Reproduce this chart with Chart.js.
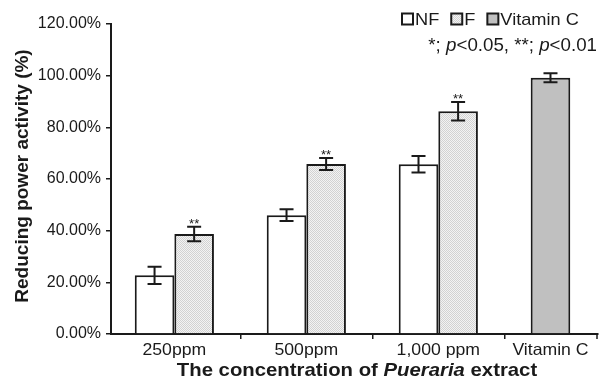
<!DOCTYPE html>
<html>
<head>
<meta charset="utf-8">
<script src="https://cdn.jsdelivr.net/npm/chart.js@4"></script>
<style>
html, body { margin: 0; padding: 0; background: #fff; overflow: hidden; }
#box { width: 604px; height: 380px; }
</style>
</head>
<body>
<div id="box"><canvas id="grafico"></canvas></div>
<script>
var categorie = ['250ppm', '500ppm', '1,000 ppm', 'Vitamin C'];
var valoriNF = [22.7, 46.0, 65.7, null];
var erroriNF = [3.3, 2.3, 3.2, null];
var valoriF = [38.7, 65.8, 86.2, null];
var erroriF = [2.8, 2.3, 3.6, null];
var valoriVitC = [null, null, null, 99.2];
var erroriVitC = [null, null, null, 1.7];
var stelleF = ['**', '**', '**', ''];
var tickY = [0, 20, 40, 60, 80, 100, 120];

var font = "'Liberation Sans', Arial, sans-serif";
var nero = '#1a1a1a';
// il testo dell'originale e' un po' allargato in orizzontale
var stira = 1.07;

// puntinato grigio chiaro per la serie F
function retino() {
    var c = document.createElement('canvas');
    c.width = 2;
    c.height = 2;
    var g = c.getContext('2d');
    g.fillStyle = '#f3f3f3';
    g.fillRect(0, 0, 2, 2);
    g.fillStyle = '#d2d2d2';
    g.fillRect(0, 0, 1, 1);
    g.fillRect(1, 1, 1, 1);
    return g.createPattern(c, 'repeat');
}

// scrive pezzi di testo con stili diversi, allargati in x
function scrivi(ctx, pezzi, x, y, allinea) {
    var w = 0;
    pezzi.forEach(function (p) {
        ctx.font = p[0] + font;
        w += ctx.measureText(p[1]).width;
    });
    var px = allinea === 'center' ? -w / 2 : (allinea === 'right' ? -w : 0);
    ctx.save();
    ctx.translate(x, y);
    ctx.scale(stira, 1);
    ctx.textAlign = 'left';
    ctx.textBaseline = 'middle';
    pezzi.forEach(function (p) {
        ctx.font = p[0] + font;
        ctx.fillText(p[1], px, 0);
        px += ctx.measureText(p[1]).width;
    });
    ctx.restore();
    return w * stira;
}

var errori = [erroriNF, erroriF, erroriVitC];
var stelle = [null, stelleF, null];

var pluginErrori = {
    id: 'barreErrore',
    afterDatasetsDraw: function (chart) {
        var ctx = chart.ctx;
        var y = chart.scales.y;
        ctx.save();
        ctx.strokeStyle = nero;
        ctx.lineWidth = 2;
        for (var i = 0; i < chart.data.datasets.length; i++) {
            var meta = chart.getDatasetMeta(i);
            var dati = chart.data.datasets[i].data;
            for (var j = 0; j < dati.length; j++) {
                if (dati[j] === null) continue;
                var x = meta.data[j].x;
                var e = errori[i][j];
                var alto = y.getPixelForValue(dati[j] + e);
                var basso = y.getPixelForValue(dati[j] - e);
                ctx.beginPath();
                ctx.moveTo(x, alto);
                ctx.lineTo(x, basso);
                ctx.moveTo(x - 7, alto);
                ctx.lineTo(x + 7, alto);
                ctx.moveTo(x - 7, basso);
                ctx.lineTo(x + 7, basso);
                ctx.stroke();
                if (stelle[i] && stelle[i][j]) {
                    ctx.fillStyle = nero;
                    ctx.font = '13px ' + font;
                    ctx.textAlign = 'center';
                    ctx.textBaseline = 'alphabetic';
                    ctx.fillText(stelle[i][j], x, alto + 1);
                }
            }
        }
        ctx.restore();
    }
};

var pluginTesti = {
    id: 'testi',
    afterDraw: function (chart) {
        var ctx = chart.ctx;
        var area = chart.chartArea;
        ctx.save();
        ctx.fillStyle = nero;
        ctx.strokeStyle = nero;

        // tacca finale asse x
        ctx.lineWidth = 1.5;
        ctx.beginPath();
        ctx.moveTo(area.right - 1, area.bottom);
        ctx.lineTo(area.right - 1, area.bottom + 5);
        ctx.stroke();

        // etichette categorie, centrate sotto le barre disegnate
        for (var j = 0; j < categorie.length; j++) {
            var somma = 0, n = 0;
            chart.data.datasets.forEach(function (d, i) {
                if (d.data[j] !== null) {
                    somma += chart.getDatasetMeta(i).data[j].x;
                    n++;
                }
            });
            scrivi(ctx, [['16.5px ', categorie[j]]], somma / n, 350.5, 'center');
        }

        // titolo asse y
        ctx.save();
        ctx.translate(23, 176);
        ctx.rotate(-Math.PI / 2);
        ctx.font = 'bold 19px ' + font;
        ctx.textAlign = 'center';
        ctx.textBaseline = 'middle';
        ctx.fillText('Reducing power activity (%)', 0, 0);
        ctx.restore();

        // titolo asse x, con Pueraria in corsivo
        scrivi(ctx, [
            ['bold 19px ', 'The concentration of '],
            ['bold italic 19px ', 'Pueraria'],
            ['bold 19px ', ' extract']
        ], 357, 370.5, 'center');

        // legenda
        var voci = chart.data.datasets;
        var lx = 402;
        var ly = 19;
        voci.forEach(function (d) {
            ctx.fillStyle = d.backgroundColor;
            ctx.fillRect(lx, ly - 5.5, 11, 11);
            ctx.lineWidth = 2;
            ctx.strokeRect(lx, ly - 5.5, 11, 11);
            ctx.fillStyle = nero;
            lx += 13 + scrivi(ctx, [['17px ', d.label]], lx + 13, ly + 1, 'left') + 12;
        });

        // nota significativita, p in corsivo
        scrivi(ctx, [
            ['17.5px ', '*; '], ['italic 17.5px ', 'p'], ['17.5px ', '<0.05, **; '],
            ['italic 17.5px ', 'p'], ['17.5px ', '<0.01']
        ], 597, 46, 'right');
        ctx.restore();
    }
};

var ctx = document.getElementById('grafico');
var chart = new Chart(ctx, {
    type: 'bar',
    data: {
        labels: categorie,
        datasets: [{
            label: 'NF',
            data: valoriNF,
            stack: 'a',
            backgroundColor: '#ffffff'
        }, {
            label: 'F',
            data: valoriF,
            stack: 'b',
            backgroundColor: retino()
        }, {
            label: 'Vitamin C',
            data: valoriVitC,
            stack: 'a',
            backgroundColor: '#c0c0c0'
        }]
    },
    options: {
        responsive: true,
        maintainAspectRatio: false,
        animation: false,
        layout: { padding: { top: 24, right: 6, left: 0, bottom: 0 } },
        datasets: {
            bar: {
                borderColor: nero,
                borderWidth: 2,
                categoryPercentage: 0.6,
                barPercentage: 1.0
            }
        },
        plugins: {
            legend: { display: false },
            tooltip: { enabled: false }
        },
        scales: {
            x: {
                type: 'category',
                offset: true,
                grid: {
                    offset: true,
                    drawOnChartArea: false,
                    tickLength: 5,
                    color: nero,
                    lineWidth: 1.5
                },
                border: { color: nero, width: 2 },
                ticks: { display: false },
                afterBuildTicks: function (s) {
                    // l'asse mostra poco meno di 4 categorie intere, come nell'originale
                    s._startValue = -0.48;
                    s._valueRange = 3.69;
                },
                afterFit: function (s) {
                    s.height = 46;
                    s.paddingLeft = 0;
                    s.paddingRight = 0;
                }
            },
            y: {
                min: 0,
                max: 120,
                stacked: false,
                afterBuildTicks: function (s) {
                    s.ticks = tickY.map(function (v) { return { value: v }; });
                },
                grid: {
                    drawOnChartArea: false,
                    tickLength: 5,
                    color: nero,
                    lineWidth: 1.5
                },
                border: { color: nero, width: 2 },
                ticks: {
                    color: nero,
                    font: { family: font, size: 16 },
                    padding: 5,
                    callback: function (v) { return v.toFixed(2) + '%'; }
                },
                afterFit: function (s) {
                    s.width = 111;
                    s.paddingTop = 0;
                    s.paddingBottom = 0;
                }
            }
        }
    },
    plugins: [pluginErrori, pluginTesti]
});
</script>
</body>
</html>
